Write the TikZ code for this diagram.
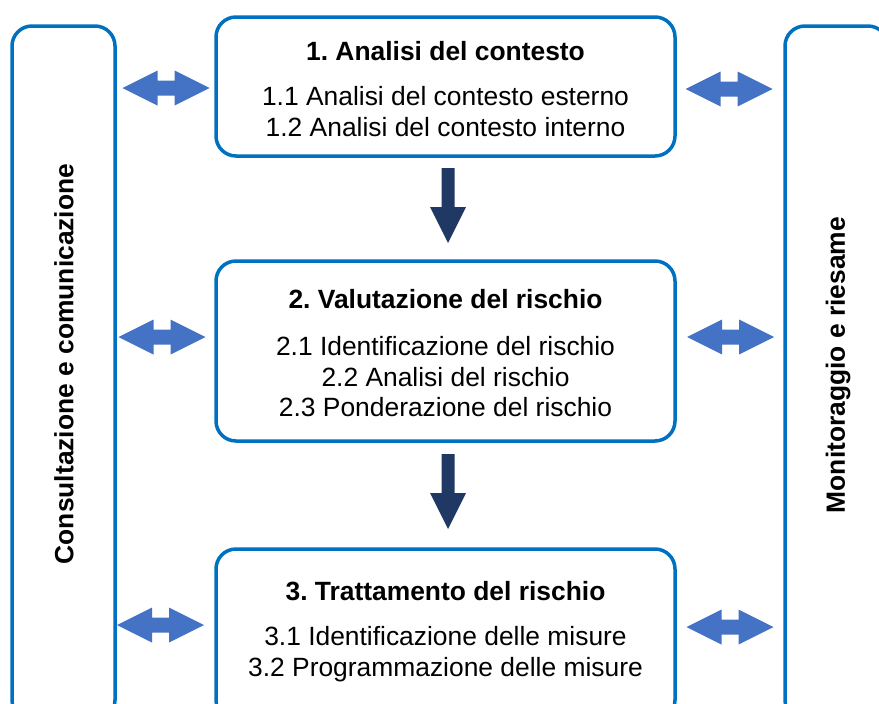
\documentclass[tikz,border=0pt]{standalone}
\usepackage{fontspec}
\setmainfont{Liberation Sans}
\frenchspacing
\definecolor{boxblue}{HTML}{0070C0}
\definecolor{arrblue}{HTML}{4472C4}
\definecolor{navyarr}{HTML}{1F3864}
\tikzset{
  frame/.style={draw=boxblue, line width=3.5pt, rounded corners=20pt, inner sep=0pt},
  ttl/.style={anchor=base, font=\fontsize{26.4}{31}\selectfont\bfseries\frenchspacing, inner sep=0pt},
  itm/.style={anchor=base, font=\fontsize{26.4}{31}\selectfont\frenchspacing, inner sep=0pt},
  side/.style={font=\fontsize{26.4}{31}\selectfont\bfseries, rotate=90, inner sep=0pt},
  dblarr/.pic={\fill[arrblue] (-43.5,0) -- (-8.5,17.5) -- (-8.5,7.5) -- (8.5,7.5) -- (8.5,17.5)
     -- (43.5,0) -- (8.5,-17.5) -- (8.5,-7.5) -- (-8.5,-7.5) -- (-8.5,-17.5) -- cycle;},
  downarr/.pic={\fill[navyarr] (-6.5,0) -- (6.5,0) -- (6.5,39) -- (18,39) -- (0,75)
     -- (-18,39) -- (-6.5,39) -- cycle;}
}
\begin{document}
\begin{tikzpicture}[x=1pt,y=-1pt]
\useasboundingbox (0,0) rectangle (879,704);
\clip (0,0) rectangle (879,704);
% side boxes
\node[frame, minimum width=103pt, minimum height=694pt] (left) at (63.5,373) {};
\node[frame, minimum width=103pt, minimum height=694pt] (right) at (836.5,373) {};
\node[side] (ltxt) at (64,364) {Consultazione e comunicazione};
\node[side] (rtxt) at (838,365) {Monitoraggio e riesame};
% central boxes
\node[frame, minimum width=459pt, minimum height=139pt] (b1) at (445.5,86.5) {};
\node[frame, minimum width=459pt, minimum height=180pt] (b2) at (445.5,351) {};
\node[frame, minimum width=459pt, minimum height=171pt] (b3) at (445.5,634.5) {};
% texts box 1
\node[ttl] (t1) at (445.5,60.5) {1. Analisi del contesto};
\node[itm] (t11) at (445.5,105.5) {1.1 Analisi del contesto esterno};
\node[itm] (t12) at (445.5,136) {1.2 Analisi del contesto interno};
% texts box 2
\node[ttl] (t2) at (445.5,308) {2. Valutazione del rischio};
\node[itm] (t21) at (445.5,355) {2.1 Identificazione del rischio};
\node[itm] (t22) at (445.5,386) {2.2 Analisi del rischio};
\node[itm] (t23) at (445.5,416) {2.3 Ponderazione del rischio};
% texts box 3
\node[ttl] (t3) at (445.5,600) {3. Trattamento del rischio};
\node[itm] (t31) at (445.5,645) {3.1 Identificazione delle misure};
\node[itm] (t32) at (445.5,676) {3.2 Programmazione delle misure};
% down arrows
\pic (d1) at (448,168) {downarr};
\pic (d2) at (448,454) {downarr};
% double arrows
\pic (l1) at (166,88) {dblarr};
\pic (l2) at (162,337) {dblarr};
\pic (l3) at (160.5,625) {dblarr};
\pic (r1) at (729,89) {dblarr};
\pic (r2) at (730.5,337) {dblarr};
\pic (r3) at (730,627) {dblarr};
\end{tikzpicture}
\end{document}
